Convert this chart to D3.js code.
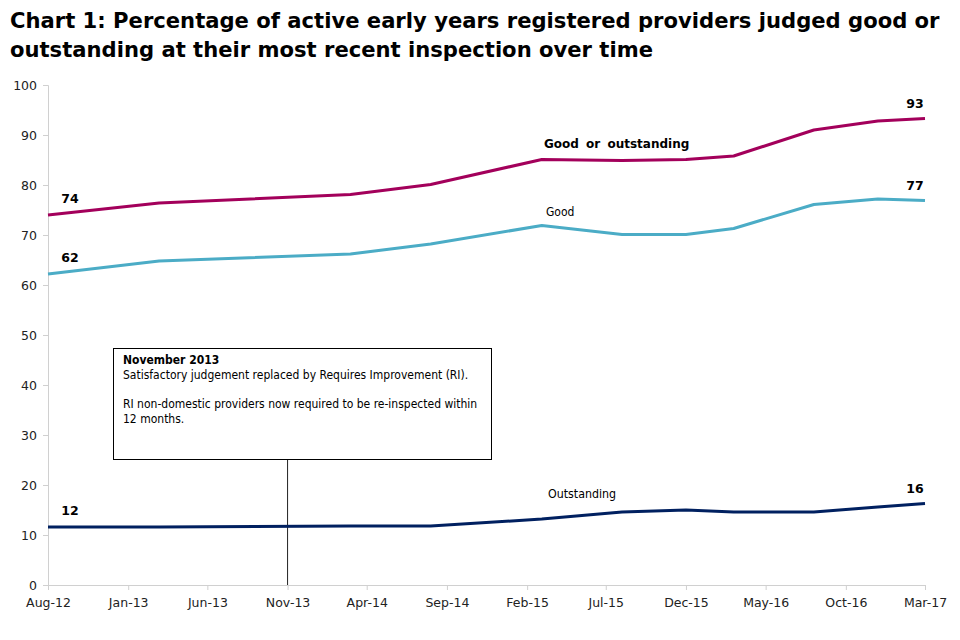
<!DOCTYPE html>
<html>
<head>
<meta charset="utf-8">
<script src="https://cdn.jsdelivr.net/npm/d3@7"></script>
<style>
  body { margin: 0; background: #fff; }
  svg { display: block; }
</style>
</head>
<body>
<div id="chart"></div>
<script>
// Dados do gráfico //
const dates = ["2012-08", "2013-03", "2014-03", "2014-08", "2015-03", "2015-08", "2015-12", "2016-03", "2016-08", "2016-12", "2017-03"];
const goodOrOutstanding = [74.0, 76.4, 78.1, 80.1, 85.1, 84.9, 85.1, 85.8, 91.0, 92.8, 93.3];
const good = [62.2, 64.8, 66.2, 68.2, 71.9, 70.1, 70.1, 71.3, 76.1, 77.2, 76.9];
const outstanding = [11.6, 11.6, 11.8, 11.8, 13.2, 14.6, 15.0, 14.6, 14.6, 15.6, 16.3];
const tickDates = ["2012-08", "2013-01", "2013-06", "2013-11", "2014-04", "2014-09", "2015-02", "2015-07", "2015-12", "2016-05", "2016-10", "2017-03"];
const tickLabels = ["Aug-12", "Jan-13", "Jun-13", "Nov-13", "Apr-14", "Sep-14", "Feb-15", "Jul-15", "Dec-15", "May-16", "Oct-16", "Mar-17"];
const yTicks = [0, 10, 20, 30, 40, 50, 60, 70, 80, 90, 100];

const parse = d3.timeParse("%Y-%m");
const width = 960, height = 640;
const margin = {top: 85, right: 35, bottom: 55, left: 48};

const svg = d3.select("#chart").append("svg")
    .attr("width", width)
    .attr("height", height);

// Título //
const title = svg.append("g").attr("font-family", "Verdana, 'DejaVu Sans', sans-serif")
    .attr("font-weight", "bold").attr("fill", "#000");
const t1 = title.append("text").attr("x", 10).attr("y", 28).attr("font-size", 21)
    .text("Chart 1: Percentage of active early years registered providers judged good or");
const scaleT = 930 / t1.node().getComputedTextLength();
const fs = 21 * scaleT;
t1.attr("font-size", fs);
title.append("text").attr("x", 10).attr("y", 57).attr("font-size", fs)
    .text("outstanding at their most recent inspection over time");

const x = d3.scaleTime()
    .domain([parse("2012-08"), parse("2017-03")])
    .range([margin.left, width - margin.right]);
const y = d3.scaleLinear()
    .domain([0, 100])
    .range([height - margin.bottom, margin.top]);

// Eixos //
const axisFont = "Verdana, 'DejaVu Sans', sans-serif";
const yAxis = svg.append("g")
    .attr("transform", "translate(" + margin.left + ",0)")
    .call(d3.axisLeft(y).tickValues(yTicks).tickSize(5).tickPadding(6));
const xAxis = svg.append("g")
    .attr("transform", "translate(0," + (height - margin.bottom) + ")")
    .call(d3.axisBottom(x).tickValues(tickDates.map(parse))
      .tickFormat((d, i) => tickLabels[i]).tickSize(5).tickPadding(6));
[yAxis, xAxis].forEach(a => {
  a.selectAll(".domain, line").attr("stroke", "#d0d0d0");
  a.selectAll("text").attr("font-family", axisFont).attr("font-size", 12.5).attr("fill", "#222");
});
xAxis.selectAll("text").attr("dy", "0.9em");

// Anotação //
const noteX = x(parse("2013-11"));
svg.append("line")
    .attr("x1", noteX).attr("x2", noteX)
    .attr("y1", 459).attr("y2", y(0))
    .attr("stroke", "#222").attr("stroke-width", 1);
svg.append("rect")
    .attr("x", 113.5).attr("y", 348.5).attr("width", 378).attr("height", 111)
    .attr("fill", "#fff").attr("stroke", "#000").attr("stroke-width", 1);
const noteFont = "'DejaVu Sans Condensed', 'DejaVu Sans', sans-serif";
const note = svg.append("g").attr("font-family", noteFont).attr("font-size", 12).attr("fill", "#000");
note.append("text").attr("x", 123).attr("y", 364).attr("font-weight", "bold").text("November 2013");
note.append("text").attr("x", 123).attr("y", 379).text("Satisfactory judgement replaced by Requires Improvement (RI).");
note.append("text").attr("x", 123).attr("y", 408).text("RI non-domestic providers now required to be re-inspected within");
note.append("text").attr("x", 123).attr("y", 423).text("12 months.");

// Linhas //
const series = [
  {name: "Good or outstanding", values: goodOrOutstanding, color: "#a3005b"},
  {name: "Good", values: good, color: "#4bacc6"},
  {name: "Outstanding", values: outstanding, color: "#002060"}
];
const line = d3.line()
    .x((d, i) => x(parse(dates[i])))
    .y(d => y(d));
svg.append("g").selectAll("path")
    .data(series)
    .enter()
    .append("path")
    .attr("d", d => line(d.values))
    .attr("fill", "none")
    .attr("stroke", d => d.color)
    .attr("stroke-width", 3)
    .attr("stroke-linejoin", "round");

// Rótulos das séries //
const labels = svg.append("g").attr("fill", "#000");
labels.append("text").attr("x", 544).attr("y", 148)
    .attr("font-family", axisFont).attr("font-weight", "bold").attr("font-size", 12)
    .attr("word-spacing", 3).text("Good or outstanding");
labels.append("text").attr("x", 546).attr("y", 216)
    .attr("font-family", noteFont).attr("font-size", 12).text("Good");
labels.append("text").attr("x", 548).attr("y", 498)
    .attr("font-family", noteFont).attr("font-size", 12.3).text("Outstanding");

// Valores inicial e final //
const valueLabels = svg.append("g")
    .attr("font-family", axisFont).attr("font-weight", "bold").attr("font-size", 12.5)
    .attr("fill", "#000").attr("text-anchor", "middle");
series.forEach(s => {
  const first = s.values[0], last = s.values[s.values.length - 1];
  valueLabels.append("text")
      .attr("x", x(parse(dates[0])) + 22)
      .attr("y", y(first) - 12)
      .text(Math.round(first));
  valueLabels.append("text")
      .attr("x", x(parse(dates[dates.length - 1])) - 10)
      .attr("y", y(last) - 11)
      .text(Math.round(last));
});
</script>
</body>
</html>
